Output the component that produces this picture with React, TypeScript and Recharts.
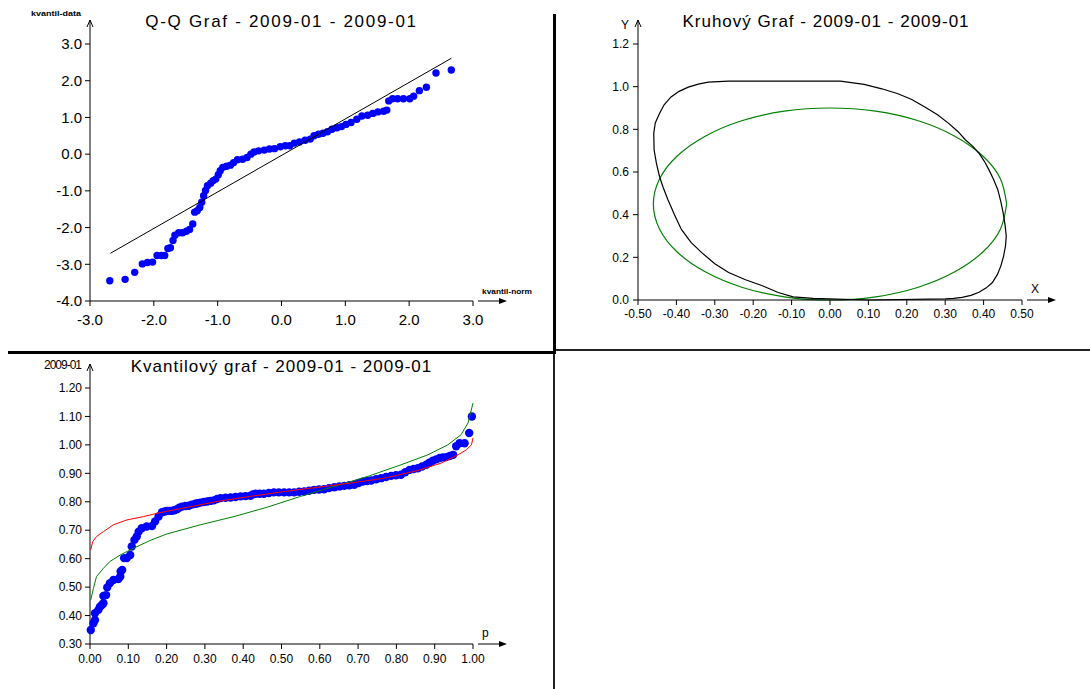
import { ComposedChart, XAxis, YAxis, Line, Scatter } from "recharts"

const FONT = '"Liberation Sans", Arial, Helvetica, sans-serif'

// Q-Q graf
const qqNorm = [
  -2.69, -2.45, -2.3, -2.18, -2.1, -2.02, -1.95, -1.88, -1.83, -1.78, -1.74, -1.7, -1.67, -1.61, -1.55, -1.49,
  -1.44, -1.39, -1.36, -1.32, -1.28, -1.25, -1.22, -1.19, -1.16, -1.11, -1.07, -1.03, -0.99, -0.96, -0.92, -0.86,
  -0.8, -0.75, -0.69, -0.61, -0.54, -0.48, -0.43, -0.36, -0.27, -0.19, -0.11, -0.02, 0.06, 0.13, 0.2, 0.28, 0.37,
  0.45, 0.51, 0.58, 0.65, 0.72, 0.79, 0.87, 0.94, 1.01, 1.09, 1.18, 1.26, 1.35, 1.43, 1.51, 1.6, 1.65, 1.68, 1.74,
  1.82, 1.91, 2.01, 2.07, 2.16, 2.27, 2.42, 2.66,
]
const qqData = [
  -3.45, -3.41, -3.22, -2.99, -2.95, -2.94, -2.76, -2.76, -2.76, -2.57, -2.55, -2.35, -2.21, -2.14, -2.14, -2.1,
  -2.05, -1.9, -1.58, -1.54, -1.45, -1.31, -1.13, -0.99, -0.86, -0.79, -0.72, -0.68, -0.56, -0.45, -0.36, -0.33,
  -0.3, -0.23, -0.15, -0.14, -0.09, 0.0, 0.06, 0.09, 0.11, 0.14, 0.15, 0.2, 0.23, 0.23, 0.3, 0.33, 0.38, 0.41, 0.5,
  0.54, 0.57, 0.61, 0.68, 0.72, 0.75, 0.81, 0.86, 0.95, 1.04, 1.06, 1.11, 1.15, 1.17, 1.2, 1.45, 1.51, 1.51, 1.51,
  1.51, 1.58, 1.73, 1.82, 2.21, 2.29,
]
const qqLineNorm = [-2.68, 2.66]
const qqLineData = [-2.7, 2.61]
const qqTicksX = [-3, -2, -1, 0, 1, 2, 3]
const qqTicksY = [-4, -3, -2, -1, 0, 1, 2, 3]

// Kruhový graf
const blackX = [
  -0.044, -0.096, -0.135, -0.176, -0.22, -0.264, -0.3, -0.334, -0.362, -0.387, -0.405, -0.422, -0.434, -0.444,
  -0.452, -0.458, -0.459, -0.455, -0.444, -0.432, -0.414, -0.393, -0.369, -0.343, -0.317, -0.264, 0.027, 0.089,
  0.135, 0.177, 0.213, 0.247, 0.28, 0.309, 0.333, 0.353, 0.372, 0.388, 0.402, 0.414, 0.426, 0.437, 0.445, 0.451,
  0.456, 0.459, 0.457, 0.452, 0.445, 0.436, 0.423, 0.407, 0.388, 0.367, 0.344, 0.322, 0.3, 0.1, -0.044,
]
const blackY = [
  0.008, 0.015, 0.035, 0.067, 0.095, 0.129, 0.17, 0.222, 0.27, 0.331, 0.4, 0.47, 0.525, 0.579, 0.64, 0.703, 0.781,
  0.83, 0.874, 0.915, 0.952, 0.978, 0.998, 1.012, 1.021, 1.026, 1.026, 1.011, 0.99, 0.967, 0.94, 0.905, 0.868,
  0.828, 0.79, 0.75, 0.72, 0.688, 0.65, 0.61, 0.565, 0.517, 0.46, 0.408, 0.35, 0.3, 0.253, 0.205, 0.16, 0.12,
  0.082, 0.057, 0.036, 0.022, 0.012, 0.008, 0.005, 0.0, 0.008,
]
const greenX = [
  0.46, 0.444, 0.398, 0.325, 0.23, 0.119, 0.0, -0.119, -0.23, -0.325, -0.398, -0.444, -0.46, -0.444, -0.398, -0.325,
  -0.23, -0.119, 0.0, 0.119, 0.23, 0.325, 0.398, 0.444, 0.46,
]
const greenY = [
  0.45, 0.567, 0.675, 0.768, 0.84, 0.885, 0.9, 0.885, 0.84, 0.768, 0.675, 0.567, 0.45, 0.333, 0.225, 0.132, 0.06,
  0.015, 0.0, 0.015, 0.06, 0.132, 0.225, 0.333, 0.45,
]
const circTicksX = [-0.5, -0.4, -0.3, -0.2, -0.1, 0, 0.1, 0.2, 0.3, 0.4, 0.5]
const circTicksY = [0, 0.2, 0.4, 0.6, 0.8, 1.0, 1.2]

// Kvantilový graf
const quantP = [
  0.002, 0.009, 0.013, 0.013, 0.022, 0.026, 0.031, 0.035, 0.035, 0.042, 0.045, 0.052, 0.061, 0.074, 0.079, 0.08,
  0.084, 0.089, 0.096, 0.105, 0.109, 0.116, 0.122, 0.127, 0.135, 0.148, 0.162, 0.17, 0.179, 0.188, 0.195, 0.201,
  0.208, 0.214, 0.22, 0.227, 0.233, 0.24, 0.249, 0.258, 0.266, 0.275, 0.281, 0.288, 0.297, 0.306, 0.314, 0.323,
  0.332, 0.341, 0.354, 0.367, 0.38, 0.393, 0.406, 0.419, 0.425, 0.432, 0.443, 0.454, 0.467, 0.48, 0.493, 0.507,
  0.52, 0.533, 0.546, 0.559, 0.572, 0.585, 0.598, 0.611, 0.624, 0.638, 0.651, 0.664, 0.677, 0.69, 0.701, 0.712,
  0.723, 0.734, 0.747, 0.76, 0.773, 0.786, 0.799, 0.812, 0.823, 0.834, 0.845, 0.856, 0.867, 0.878, 0.886, 0.895,
  0.904, 0.913, 0.921, 0.93, 0.939, 0.948, 0.956, 0.965, 0.978, 0.99, 0.997,
]
const quantV = [
  0.349, 0.373, 0.384, 0.408, 0.42, 0.431, 0.437, 0.443, 0.469, 0.472, 0.499, 0.514, 0.525, 0.528, 0.537, 0.555,
  0.56, 0.602, 0.602, 0.613, 0.643, 0.666, 0.678, 0.695, 0.707, 0.713, 0.715, 0.731, 0.748, 0.763, 0.766, 0.768,
  0.768, 0.768, 0.77, 0.774, 0.779, 0.783, 0.785, 0.786, 0.79, 0.793, 0.795, 0.797, 0.799, 0.801, 0.803, 0.805,
  0.81, 0.813, 0.814, 0.815, 0.817, 0.819, 0.82, 0.821, 0.826, 0.828, 0.828, 0.828, 0.831, 0.833, 0.833, 0.833,
  0.833, 0.833, 0.835, 0.836, 0.839, 0.842, 0.843, 0.844, 0.848, 0.851, 0.854, 0.856, 0.858, 0.86, 0.866, 0.871,
  0.873, 0.875, 0.879, 0.883, 0.887, 0.891, 0.893, 0.895, 0.904, 0.912, 0.915, 0.918, 0.924, 0.93, 0.937, 0.944,
  0.949, 0.954, 0.956, 0.957, 0.961, 0.965, 0.995, 1.006, 1.006, 1.042, 1.1,
]
const redP = [
  0.002, 0.007, 0.017, 0.035, 0.061, 0.096, 0.14, 0.183, 0.245, 0.332, 0.419, 0.507, 0.594, 0.681, 0.769, 0.856,
  0.917, 0.961, 0.983, 0.996, 1.0,
]
const redV = [
  0.631, 0.66, 0.678, 0.695, 0.719, 0.736, 0.748, 0.762, 0.778, 0.801, 0.819, 0.836, 0.851, 0.866, 0.883, 0.91,
  0.936, 0.965, 0.983, 1.0, 1.024,
]
const greenP = [
  0.002, 0.009, 0.017, 0.035, 0.052, 0.079, 0.114, 0.157, 0.201, 0.288, 0.376, 0.463, 0.55, 0.638, 0.725, 0.812,
  0.882, 0.934, 0.969, 0.987, 1.0,
]
const greenV = [
  0.455, 0.496, 0.537, 0.566, 0.59, 0.613, 0.637, 0.664, 0.687, 0.719, 0.748, 0.781, 0.819, 0.854, 0.889, 0.93,
  0.965, 1.0, 1.036, 1.077, 1.147,
]
const quantTicksX = [0, 0.1, 0.2, 0.3, 0.4, 0.5, 0.6, 0.7, 0.8, 0.9, 1.0]
const quantTicksY = [0.3, 0.4, 0.5, 0.6, 0.7, 0.8, 0.9, 1.0, 1.1, 1.2]

const zip = (xs: number[], ys: number[]) => xs.map((x, i) => ({ x, y: ys[i] }))

const dot = (r: number) => (p: any) => <circle cx={p.cx} cy={p.cy} r={r} fill="#0000ff" />
const noDot = () => <g />

type Caption = { text: string; size: number; weight?: string; spacing?: number; length?: number }

const captionText = (c: Caption, x: number, y: number, anchor: "start" | "end") => (
  <text
    x={x}
    y={y}
    textAnchor={anchor}
    fontSize={c.size}
    fontWeight={c.weight || "normal"}
    letterSpacing={c.spacing || 0}
    textLength={c.length}
    lengthAdjust={c.length ? "spacingAndGlyphs" : undefined}
    fontFamily={FONT}
    fill="#000"
  >
    {c.text}
  </text>
)

// arrow on top of the y axis, with its caption to the left
const yArrow = (c: Caption, dy: number) => (props: any) => {
  const vb = props.viewBox || { x: 0, y: 0, width: 0 }
  const ax = vb.x + vb.width
  const top = vb.y
  const tip = top - 24
  return (
    <g>
      <line x1={ax} y1={top} x2={ax} y2={tip} stroke="#000" />
      <polyline points={`${ax - 3},${tip + 7} ${ax},${tip} ${ax + 3},${tip + 7}`} fill="none" stroke="#000" />
      {captionText(c, ax - 9, tip + dy, "end")}
    </g>
  )
}

// separate arrow after the end of the x axis, caption above it
const xArrow = (c: Caption) => (props: any) => {
  const vb = props.viewBox || { x: 0, y: 0, width: 0 }
  const x0 = vb.x + vb.width + 5
  const y = vb.y
  return (
    <g>
      <line x1={x0} y1={y} x2={x0 + 22} y2={y} stroke="#000" />
      <polygon points={`${x0 + 29},${y} ${x0 + 21},${y - 3} ${x0 + 21},${y + 3}`} fill="#000" />
      {captionText(c, x0 + 4, y - 7, "start")}
    </g>
  )
}

const axisProps = {
  type: "number" as const,
  axisLine: { stroke: "#000" },
  tickLine: { stroke: "#000" },
  tickSize: 5,
  interval: 0 as const,
}

const titleStyle = (left: number, top: number, width: number, spacing = 1): React.CSSProperties => ({
  position: "absolute",
  left,
  top,
  width,
  textAlign: "center",
  fontFamily: FONT,
  fontSize: 17,
  lineHeight: "20px",
  letterSpacing: spacing,
  whiteSpace: "nowrap",
})

export default function App() {
  const qqPoints = zip(qqNorm, qqData)
  const qqLine = zip(qqLineNorm, qqLineData)
  const black = zip(blackX, blackY)
  const green = zip(greenX, greenY)
  const quant = zip(quantP, quantV)
  const red = zip(redP, redV)
  const greenQ = zip(greenP, greenV)

  const small = { fontSize: 12, fill: "#000", fontFamily: FONT }
  const big = { fontSize: 15, fill: "#000", fontFamily: FONT }

  return (
    <div style={{ position: "fixed", left: 0, top: 0, width: 1090, height: 689, background: "#fff", overflow: "hidden" }}>
      {/* Q-Q */}
      <div style={{ position: "absolute", left: 0, top: 0 }}>
        <ComposedChart width={554} height={350} margin={{ top: 44, right: 81, bottom: 19, left: 0 }}>
          <XAxis
            {...axisProps}
            dataKey="x"
            domain={[-3, 3]}
            ticks={qqTicksX}
            height={30}
            tickMargin={8}
            tick={big}
            tickFormatter={(v: number) => v.toFixed(1)}
            label={{ content: xArrow({ text: "kvantil-norm", size: 7, weight: "bold", length: 50 }) }}
          />
          <YAxis
            {...axisProps}
            dataKey="y"
            domain={[-4, 3]}
            ticks={qqTicksY}
            width={90}
            tickMargin={3}
            tick={big}
            tickFormatter={(v: number) => v.toFixed(1)}
            label={{ content: yArrow({ text: "kvantil-data", size: 7, weight: "bold", length: 50 }, -4) }}
          />
          <Scatter data={qqPoints} shape={dot(3.7)} isAnimationActive={false} />
          <Scatter data={qqLine} shape={noDot} line={{ stroke: "#000", strokeWidth: 1 }} isAnimationActive={false} />
        </ComposedChart>
      </div>
      <div style={titleStyle(90, 12, 383, 1.7)}>Q-Q Graf - 2009-01 - 2009-01</div>

      {/* Kruhový */}
      <div style={{ position: "absolute", left: 556, top: 0 }}>
        <ComposedChart width={534} height={350} margin={{ top: 44, right: 68, bottom: 20, left: 0 }}>
          <XAxis
            {...axisProps}
            dataKey="x"
            domain={[-0.5, 0.5]}
            ticks={circTicksX}
            height={30}
            tickMargin={4}
            tick={small}
            tickFormatter={(v: number) => v.toFixed(2)}
            label={{ content: xArrow({ text: "X", size: 12 }) }}
          />
          <YAxis
            {...axisProps}
            dataKey="y"
            domain={[0, 1.2]}
            ticks={circTicksY}
            width={82}
            tickMargin={4}
            tick={small}
            tickFormatter={(v: number) => v.toFixed(1)}
            label={{ content: yArrow({ text: "Y", size: 12 }, 9) }}
          />
          <Line data={green} dataKey="y" type="natural" stroke="#008000" strokeWidth={1.2} dot={false} activeDot={false} isAnimationActive={false} />
          <Line data={black} dataKey="y" type="linear" stroke="#000" strokeWidth={1.2} dot={false} activeDot={false} isAnimationActive={false} />
        </ComposedChart>
      </div>
      <div style={titleStyle(634, 12, 384)}>Kruhový Graf - 2009-01 - 2009-01</div>

      {/* Kvantilový */}
      <div style={{ position: "absolute", left: 0, top: 354 }}>
        <ComposedChart width={553} height={335} margin={{ top: 34, right: 80, bottom: 15, left: 0 }}>
          <XAxis
            {...axisProps}
            dataKey="x"
            domain={[0, 1]}
            ticks={quantTicksX}
            height={30}
            tickMargin={5}
            tick={small}
            tickFormatter={(v: number) => v.toFixed(2)}
            label={{ content: xArrow({ text: "p", size: 12 }) }}
          />
          <YAxis
            {...axisProps}
            dataKey="y"
            domain={[0.3, 1.2]}
            ticks={quantTicksY}
            width={90}
            tickMargin={3}
            tick={small}
            tickFormatter={(v: number) => v.toFixed(2)}
            label={{ content: yArrow({ text: "2009-01", size: 12, spacing: -1 }, 5) }}
          />
          <Scatter data={quant} shape={dot(4.2)} isAnimationActive={false} />
          <Scatter data={greenQ} shape={noDot} line={{ stroke: "#008000", strokeWidth: 1 }} isAnimationActive={false} />
          <Scatter data={red} shape={noDot} line={{ stroke: "#ff0000", strokeWidth: 1 }} isAnimationActive={false} />
        </ComposedChart>
      </div>
      <div style={titleStyle(90, 357, 383)}>Kvantilový graf - 2009-01 - 2009-01</div>

      {/* panel borders */}
      <div style={{ position: "absolute", left: 553, top: 14, width: 3, height: 340, background: "#000" }} />
      <div style={{ position: "absolute", left: 8, top: 351, width: 548, height: 3, background: "#000" }} />
      <div style={{ position: "absolute", left: 556, top: 349, width: 534, height: 2, background: "#222" }} />
      <div style={{ position: "absolute", left: 553, top: 354, width: 2, height: 335, background: "#222" }} />
    </div>
  )
}
